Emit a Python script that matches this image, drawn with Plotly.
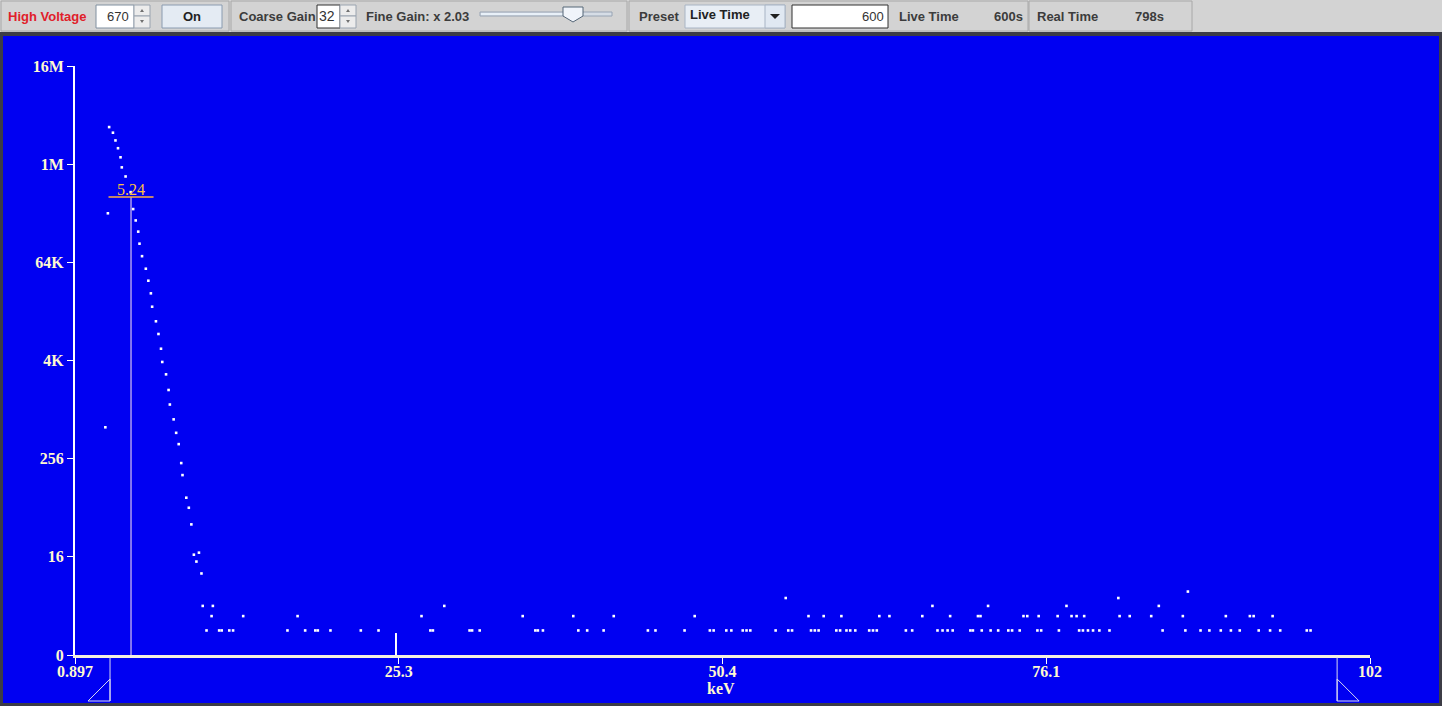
import numpy as np
import plotly.graph_objects as go

# ---------------- data ----------------
# spectrum points: channel (0..1024 scale) and counts
peak_channels = [24, 26, 27, 30, 32, 34, 36, 37, 40, 44, 46, 48, 50, 51, 53, 56, 58, 60, 61,
                 64, 66, 68, 69, 72, 74, 75, 78, 80, 82, 84, 85, 88, 90, 92, 94, 96, 98, 100]
peak_counts = [620, 262000, 2990000, 2550000, 2050000, 1645000, 1273000, 958000, 741000, 476000,
               295000, 214000, 156000, 111000, 78000, 54700, 39000, 27300, 18700, 12400, 8660,
               5710, 3930, 2770, 1780, 1180, 776, 530, 385, 225, 160, 84, 63, 39, 16, 13, 17, 9]

bg_channels_1 = [104, 114, 116, 122, 125, 168, 182, 190, 192, 202, 226, 240, 281, 283, 312, 314,
                 320, 364, 366, 370, 398, 405, 418, 453, 459, 482, 502, 505, 515, 519, 528, 531,
                 534, 554, 564, 567, 582, 585, 588, 602, 605, 610, 613, 617, 628, 631, 634, 657,
                 662, 682, 686, 690, 694, 708, 710, 717, 724, 730, 738, 741, 747, 761, 764, 778,
                 794, 797, 801, 805, 810, 818, 860, 878, 890, 897, 906, 914, 921, 936, 945, 953,
                 974, 977]
bg_channels_2 = [108, 133, 176, 274, 354, 394, 426, 490, 580, 592, 606, 636, 644, 670, 692, 714,
                 716, 750, 753, 762, 777, 788, 792, 798, 826, 834, 851, 876, 910, 929, 932, 947]
bg_channels_3 = [101, 109, 292, 678, 722, 784, 857]
bg_channels_4 = [562, 825]
bg_channels_5 = [880]

x_tick_channels = [0, 256, 512, 768, 1024]
x_tick_labels = ["0.897", "25.3", "50.4", "76.1", "102"]
y_tick_values = [1, 16, 256, 4096, 65536, 1048576, 16777216]
y_tick_labels = ["0", "16", "256", "4K", "64K", "1M", "16M"]

PEAK_LABEL = "5.24"
PEAK_CH = 44.3
PEAK_LEVEL = 414000
CURSOR_CH = 253.8
CURSOR_LEVEL = 0.86
ROI_LEFT = 27.7
ROI_RIGHT = 998.0

# ---------------- layout geometry ----------------
W, H = 1442, 706
ML, MR, MT, MB = 75, 72, 66, 51
PW = W - ML - MR
PH = H - MT - MB


def px(x):
    return (x - ML) / PW


def py(y):
    return 1 - (y - MT) / PH


BLUE = "#0000f2"
LABEL = "#fff8d0"
SERIF = "Liberation Serif, Times New Roman, serif"
SANS = "Liberation Sans, Arial, sans-serif"

# assemble series
bg_channels = bg_channels_1 + bg_channels_2 + bg_channels_3 + bg_channels_4 + bg_channels_5
bg_counts = ([1] * len(bg_channels_1) + [2] * len(bg_channels_2) + [3] * len(bg_channels_3)
             + [4] * len(bg_channels_4) + [5] * len(bg_channels_5))
channels = np.array(peak_channels + bg_channels, dtype=float)
counts = np.array(peak_counts + bg_counts, dtype=float)

fig = go.Figure()

# peak marker vertical line
fig.add_trace(go.Scatter(x=[PEAK_CH, PEAK_CH], y=[1, PEAK_LEVEL + 1], mode="lines",
                         line=dict(color="#ac9cf0", width=1.5), hoverinfo="skip", showlegend=False))
# peak marker horizontal bar
fig.add_trace(go.Scatter(x=[PEAK_CH - 17.8, PEAK_CH + 17.8], y=[PEAK_LEVEL + 1, PEAK_LEVEL + 1],
                         mode="lines", line=dict(color="#ffb040", width=1.5), hoverinfo="skip",
                         showlegend=False))
# cursor
fig.add_trace(go.Scatter(x=[CURSOR_CH, CURSOR_CH], y=[1, 1 + CURSOR_LEVEL], mode="lines",
                         line=dict(color="white", width=2), hoverinfo="skip", showlegend=False))
# spectrum points
fig.add_trace(go.Scatter(x=channels, y=counts + 1, mode="markers",
                         marker=dict(symbol="square", size=2.6, color="white", line=dict(width=0)),
                         showlegend=False))

shapes = []
annotations = []


def rect(x0, y0, x1, y1, fill, line=None, lw=1, layer="below"):
    d = dict(type="rect", xref="paper", yref="paper", x0=px(x0), x1=px(x1), y0=py(y1), y1=py(y0),
             fillcolor=fill, layer=layer, line=dict(width=0))
    if line:
        d["line"] = dict(color=line, width=lw)
    shapes.append(d)


def poly(pts, fill, line=None, lw=1, xref="paper", layer="below"):
    path = "M " + " L ".join(f"{(px(a) if xref == 'paper' else a)} {py(b)}" for a, b in pts) + " Z"
    d = dict(type="path", xref=xref, yref="paper", path=path, fillcolor=fill, layer=layer,
             line=dict(width=0))
    if line:
        d["line"] = dict(color=line, width=lw)
    shapes.append(d)


def seg(x0, y0, x1, y1, color, lw=1, xref="paper", layer="above"):
    shapes.append(dict(type="line", xref=xref, yref="paper",
                       x0=(px(x0) if xref == "paper" else x0), x1=(px(x1) if xref == "paper" else x1),
                       y0=py(y0), y1=py(y1), line=dict(color=color, width=lw), layer=layer))


def text(x, y, s, anchor="left", color="#3c3c3c", size=13, font=SANS, bold=True):
    annotations.append(dict(xref="paper", yref="paper", x=px(x), y=py(y), xanchor=anchor,
                            yanchor="middle", showarrow=False,
                            text=(f"<b>{s}</b>" if bold else s),
                            font=dict(family=font, size=size, color=color)))


# toolbar background
rect(0, 0, W, 32, "#d3d3d3")
# panels
for a, b in [(1, 229), (231, 627), (629, 1028), (1029, 1192)]:
    rect(a, 1, b, 31, "#d3d3d3", line="#a8a8a8")
# blue panel
rect(3, 36, 1439, 703, BLUE)

# High voltage
text(6, 16, "High Voltage", color="#e0202a")
rect(96, 5, 134, 28, "white", line="#8090a0")
text(131, 16, "670", anchor="right", color="#333333", bold=False)
rect(134, 5, 150, 16, "#ececec", line="#9aa4b0")
rect(134, 16, 150, 28, "#ececec", line="#9aa4b0")
poly([(140, 12), (144, 12), (142, 9)], "#707070")
poly([(140, 20), (144, 20), (142, 23)], "#707070")
rect(162, 5, 222, 28, "#e4ebf3", line="#8a9bb0")
text(192, 16, "On", anchor="center", color="#222222")

# Gains
text(237, 16, "Coarse Gain")
rect(317, 5, 340, 28, "white", line="#303030")
text(337, 16, "32", anchor="right", color="#333333", bold=False, size=14)
rect(340, 5, 356, 16, "#ececec", line="#9aa4b0")
rect(340, 16, 356, 28, "#ececec", line="#9aa4b0")
poly([(346, 12), (350, 12), (348, 9)], "#707070")
poly([(346, 20), (350, 20), (348, 23)], "#707070")
text(364, 16, "Fine Gain: x 2.03")
rect(480, 12, 612, 16, "#d6dde6", line="#98a4b4")
rect(481, 13, 573, 15, "#e8f0f8")
poly([(563, 7), (583, 7), (583, 16), (573, 22), (563, 16)], "#f0f4fa", line="#556677")

# Preset
text(637, 16, "Preset")
rect(685, 5, 785, 28, "#e8eef5", line="#a8b4c4")
text(688, 15, "Live Time", color="#222222")
rect(765, 5, 785, 28, "#e0e8f2", line="#a8b4c4")
poly([(770, 14), (780, 14), (775, 19)], "#202020")
rect(792, 5, 888, 28, "white", line="#303030")
text(886, 16, "600", anchor="right", color="#333333", bold=False)
text(897, 16, "Live Time")
text(1025, 16, "600s", anchor="right")
text(1035, 16, "Real Time")
text(1133, 16, "798s")

# ROI handles (in channel units)
for ch, d in [(ROI_LEFT, -17.4), (ROI_RIGHT, 17.4)]:
    seg(ch, 657, ch, 701, "#d8d8f0", 1, xref="x")
    poly([(ch, 679), (ch, 701), (ch + d, 701)], "rgba(0,0,0,0)", line="#d8d8f0", xref="x")

# peak label
annotations.append(dict(xref="x", yref="y", x=PEAK_CH, y=np.log10(PEAK_LEVEL + 1), xanchor="center",
                        yanchor="bottom", yshift=-3, showarrow=False, text=PEAK_LABEL,
                        font=dict(family=SERIF, size=16, color="#ffc040")))
# axis title
annotations.append(dict(xref="paper", yref="paper", x=px(721), y=py(688), xanchor="center",
                        yanchor="middle", showarrow=False, text="<b>keV</b>",
                        font=dict(family=SERIF, size=16, color=LABEL)))

fig.update_layout(
    width=W, height=H,
    margin=dict(l=ML, r=MR, t=MT, b=MB, pad=0),
    paper_bgcolor="#3c3c46",
    plot_bgcolor=BLUE,
    shapes=shapes,
    annotations=annotations,
    showlegend=False,
    xaxis=dict(range=[0, 1024], tickmode="array", tickvals=x_tick_channels, ticktext=x_tick_labels,
               showgrid=False, zeroline=False, showline=True, linecolor="#f4f0e0", linewidth=3,
               ticks="outside", ticklen=6, tickcolor="white", tickwidth=1, ticklabelstandoff=-6,
               tickfont=dict(family=SERIF, size=16, color=LABEL, weight="bold")),
    yaxis=dict(type="log", range=[0, np.log10(16 ** 6)], tickmode="array", tickvals=y_tick_values,
               ticktext=y_tick_labels, showgrid=False, zeroline=False, showline=True,
               linecolor="white", linewidth=2, ticks="outside", ticklen=6, tickcolor="white",
               tickwidth=1, tickfont=dict(family=SERIF, size=16, color=LABEL, weight="bold")),
)

fig.write_html("out.html", config={"displayModeBar": False},
               post_script="document.body.style.margin='0';document.body.style.overflow='hidden';")
